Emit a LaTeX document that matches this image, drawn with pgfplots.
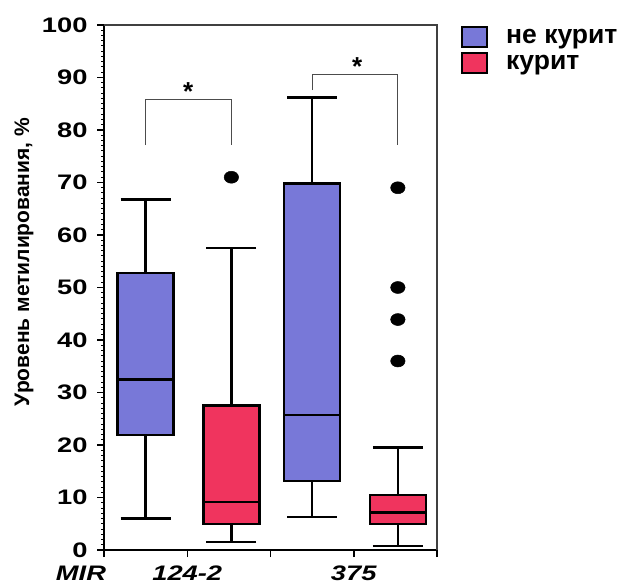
\documentclass[border=0pt]{standalone}
\usepackage{pgfplots}
\pgfplotsset{compat=1.18}
\usepgfplotslibrary{statistics}
\usepackage{fontspec}
\setmainfont{Liberation Sans}
\newfontfamily\tickfont[FakeStretch=1.3]{Liberation Sans}
\definecolor{cblue}{RGB}{120,120,216}
\definecolor{cred}{RGB}{240,52,94}
\begin{document}
\begin{tikzpicture}
\useasboundingbox (0,0) rectangle (626pt,584pt);
\begin{axis}[
 at={(104pt,34pt)}, anchor=south west,
 width=333pt, height=525pt, scale only axis,
 xmin=0, xmax=4, ymin=0, ymax=100,
 axis x line*=bottom, axis y line*=left,
 axis line style={line width=2pt, -},
 xtick={0,1,2,3,4}, xticklabels={,124-2,,375,},
 ytick={0,10,...,100},
 minor y tick num=9,
 tick align=outside,
 major tick length=7pt, minor tick length=3pt,
 tick style={line width=1.5pt, black},
 minor tick style={line width=1pt},
 yticklabel style={font=\tickfont\bfseries\fontsize{21}{21}\selectfont, xshift=-6pt},
 xticklabel style={font=\tickfont\bfseries\itshape\fontsize{21}{21}\selectfont, yshift=-5pt},
 /pgf/number format/assume math mode=true,
 boxplot/draw direction=y,
 boxplot/box extend=0.67,
 boxplot/whisker extend=0.6,
 legend style={at={(1,1)}, anchor=north west, xshift=24pt, yshift=-1pt, draw=none, fill=none, inner sep=0pt,
   font=\bfseries\fontsize{26.5}{26.5}\selectfont, row sep=4pt},
 legend cell align=left,
 legend image code/.code={\path[draw=none,fill=none] (0pt,0pt) -- (42pt,0pt); \draw[#1] (0pt,-10pt) rectangle (25pt,10pt);},
 clip=false,
]
\addlegendimage{fill=cblue, draw=black, line width=2pt}
\addlegendentry{не курит}
\addlegendimage{fill=cred, draw=black, line width=2pt}
\addlegendentry{курит}

\addplot[forget plot, boxplot prepared={draw position=0.5, lower whisker=6.0, lower quartile=21.9, median=32.5, upper quartile=52.8, upper whisker=66.8}, fill=cblue, draw=black, line width=2.5pt] coordinates {};
\addplot[forget plot, boxplot prepared={draw position=1.53, lower whisker=1.5, lower quartile=5.0, median=9.1, upper quartile=27.5, upper whisker=57.5}, fill=cred, draw=black, line width=2.5pt, mark=*, mark size=6pt, mark options={fill=black, draw=black, line width=0.5pt, xscale=1.2}] coordinates {(0,71.0)};
\addplot[forget plot, boxplot prepared={draw position=2.5, lower whisker=6.3, lower quartile=13.1, median=25.7, upper quartile=69.8, upper whisker=86.2}, fill=cblue, draw=black, line width=2.5pt] coordinates {};
\addplot[forget plot, boxplot prepared={draw position=3.53, lower whisker=0.8, lower quartile=5.0, median=7.1, upper quartile=10.5, upper whisker=19.5}, fill=cred, draw=black, line width=2.5pt, mark=*, mark size=6pt, mark options={fill=black, draw=black, line width=0.5pt, xscale=1.2}] coordinates {(0,69.0) (0,50.0) (0,43.9) (0,36.0)};

\addplot[forget plot, line width=1pt, black!70] coordinates {(0.5,77.1) (0.5,85.9) (1.53,85.9) (1.53,77.1)};
\addplot[forget plot, line width=1pt, black!70] coordinates {(2.5,87.6) (2.5,90.5) (3.53,90.5) (3.53,77.1)};
\node[font=\bfseries\fontsize{26}{26}\selectfont] at (axis cs:1.01,87.4) {*};
\node[font=\bfseries\fontsize{26}{26}\selectfont] at (axis cs:3.04,92.0) {*};
\draw[line width=1.3pt, black!75] (rel axis cs:0,1) -- (rel axis cs:1,1) -- (rel axis cs:1,0);
\end{axis}
\node[font=\tickfont\bfseries\itshape\fontsize{21}{21}\selectfont] at (81pt,11pt) {MIR};
\node[rotate=90, font=\bfseries\fontsize{21}{21}\selectfont] at (24pt,322pt) {Уровень метилирования, \%};
\end{tikzpicture}
\end{document}
